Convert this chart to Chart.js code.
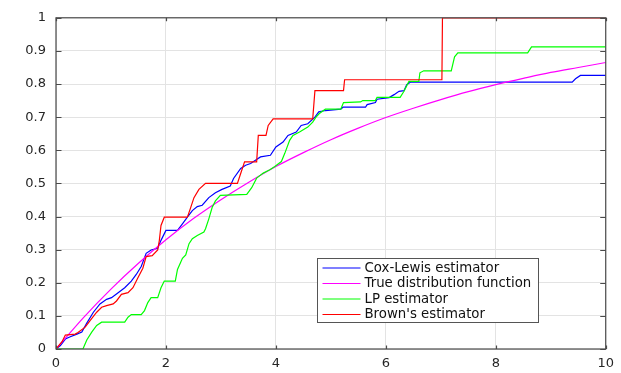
<!DOCTYPE html>
<html>
<head>
<meta charset="utf-8">
<script src="https://cdn.jsdelivr.net/npm/chart.js@4/dist/chart.umd.min.js"></script>
<style>
  html, body { margin: 0; padding: 0; background: #fff; }
  #wrap { width: 621px; height: 373px; }
</style>
</head>
<body>
<div id="wrap"><canvas id="myChart" width="621" height="373"></canvas></div>
<script>
// tick positions and their labels
var xTickValues = [0, 2, 4, 6, 8, 10];
var xTickLabels = ['0', '2', '4', '6', '8', '10'];
var yTickValues = [0, 0.1, 0.2, 0.3, 0.4, 0.5, 0.6, 0.7, 0.8, 0.9, 1];
var yTickLabels = ['0', '0.1', '0.2', '0.3', '0.4', '0.5', '0.6', '0.7', '0.8', '0.9', '1'];

var seriesNames = ['Cox-Lewis estimator', 'True distribution function', 'LP estimator', "Brown's estimator"];

// Cox-Lewis estimator
var coxX = [0, 0.08, 0.17, 0.26, 0.38, 0.47, 0.56, 0.68, 0.8, 0.92, 1.01, 1.13, 1.25, 1.37, 1.46, 1.55, 1.64, 1.73, 1.85, 1.91, 2.0, 2.21, 2.3, 2.39, 2.48, 2.57, 2.66, 2.78, 2.9, 3.02, 3.17, 3.23, 3.36, 3.45, 3.54, 3.72, 3.9, 4.0, 4.13, 4.22, 4.37, 4.46, 4.58, 4.71, 4.78, 4.9, 5.18, 5.22, 5.63, 5.66, 5.81, 5.84, 6.06, 6.15, 6.24, 6.33, 6.38, 6.45, 9.39, 9.45, 9.54, 10];
var coxY = [0, 0.01, 0.03, 0.037, 0.045, 0.051, 0.078, 0.111, 0.136, 0.15, 0.155, 0.17, 0.185, 0.205, 0.225, 0.249, 0.289, 0.299, 0.304, 0.328, 0.358, 0.358, 0.378, 0.398, 0.418, 0.43, 0.434, 0.457, 0.472, 0.482, 0.492, 0.515, 0.545, 0.555, 0.56, 0.58, 0.585, 0.61, 0.625, 0.645, 0.655, 0.675, 0.68, 0.7, 0.716, 0.72, 0.724, 0.73, 0.73, 0.738, 0.744, 0.754, 0.759, 0.768, 0.778, 0.78, 0.798, 0.806, 0.806, 0.816, 0.826, 0.826];

// true distribution function
var trueX = [0, 0.5, 1, 1.5, 2, 2.5, 3, 3.5, 4, 4.5, 5, 5.5, 6, 6.5, 7, 7.5, 8, 8.5, 9, 9.5, 10];
var trueY = [0, 0.095, 0.181, 0.259, 0.33, 0.394, 0.451, 0.503, 0.551, 0.593, 0.632, 0.667, 0.699, 0.727, 0.753, 0.777, 0.798, 0.817, 0.835, 0.85, 0.865];

// LP estimator
var lpX = [0, 0.49, 0.56, 0.65, 0.74, 0.83, 1.25, 1.31, 1.37, 1.55, 1.61, 1.67, 1.73, 1.85, 1.91, 1.97, 2.17, 2.21, 2.3, 2.36, 2.42, 2.48, 2.57, 2.69, 2.72, 2.78, 2.84, 2.9, 2.99, 3.47, 3.56, 3.65, 3.77, 3.89, 3.98, 4.1, 4.16, 4.25, 4.31, 4.43, 4.58, 4.67, 4.73, 4.79, 4.9, 5.18, 5.23, 5.54, 5.58, 5.81, 5.84, 6.26, 6.33, 6.42, 6.6, 6.62, 6.69, 7.19, 7.25, 7.31, 8.58, 8.65, 10];
var lpY = [0, 0, 0.027, 0.051, 0.071, 0.081, 0.081, 0.096, 0.104, 0.104, 0.116, 0.14, 0.155, 0.155, 0.185, 0.205, 0.205, 0.24, 0.274, 0.284, 0.318, 0.333, 0.343, 0.353, 0.363, 0.393, 0.427, 0.447, 0.464, 0.467, 0.487, 0.516, 0.531, 0.541, 0.551, 0.566, 0.59, 0.63, 0.645, 0.655, 0.67, 0.685, 0.7, 0.711, 0.724, 0.724, 0.744, 0.746, 0.75, 0.75, 0.76, 0.76, 0.778, 0.808, 0.808, 0.834, 0.84, 0.84, 0.882, 0.894, 0.894, 0.912, 0.912];

// Brown's estimator
var brownX = [0, 0.11, 0.17, 0.35, 0.4, 0.53, 0.62, 0.74, 0.83, 0.92, 1.04, 1.1, 1.19, 1.31, 1.4, 1.49, 1.58, 1.64, 1.75, 1.85, 1.88, 1.91, 1.97, 2.39, 2.45, 2.51, 2.6, 2.72, 3.3, 3.34, 3.43, 3.65, 3.68, 3.82, 3.86, 3.95, 4.67, 4.71, 5.23, 5.25, 7.02, 7.03, 10];
var brownY = [0, 0.022, 0.042, 0.045, 0.05, 0.066, 0.086, 0.111, 0.126, 0.131, 0.136, 0.145, 0.165, 0.17, 0.185, 0.215, 0.244, 0.279, 0.282, 0.299, 0.328, 0.373, 0.398, 0.398, 0.427, 0.457, 0.482, 0.5, 0.5, 0.52, 0.565, 0.565, 0.645, 0.645, 0.675, 0.695, 0.695, 0.78, 0.78, 0.813, 0.813, 1, 1];

function toPoints(xs, ys) {
	var pts = [];
	for (var i = 0; i < xs.length; i++) {
		pts.push({ x: xs[i], y: ys[i] });
	}
	return pts;
}

var textColor = '#262626';
var fontFamily = "'DejaVu Sans', 'Liberation Sans', Arial, sans-serif";

// axes box with inward ticks, plus the legend inside the plot
var boxPlugin = {
	id: 'boxAndLegend',
	afterDatasetsDraw: function(chart) {
		var ctx = chart.ctx;
		var a = chart.chartArea;
		var xs = chart.scales.x, ys = chart.scales.y;
		ctx.save();
		ctx.strokeStyle = '#4a4a4a';
		ctx.lineWidth = 1.2;
		ctx.strokeRect(a.left, a.top, a.right - a.left, a.bottom - a.top);
		ctx.beginPath();
		xTickValues.forEach(function(v) {
			var px = Math.round(xs.getPixelForValue(v)) + 0.5;
			ctx.moveTo(px, a.bottom); ctx.lineTo(px, a.bottom - 3.5);
			ctx.moveTo(px, a.top); ctx.lineTo(px, a.top + 3.5);
		});
		yTickValues.forEach(function(v) {
			var py = Math.round(ys.getPixelForValue(v)) + 0.5;
			ctx.moveTo(a.left, py); ctx.lineTo(a.left + 5.5, py);
			ctx.moveTo(a.right, py); ctx.lineTo(a.right - 5.5, py);
		});
		ctx.stroke();

		// legend
		var lx = Math.round(a.left + 261) + 0.5;
		var ly = Math.round(a.top + 240) + 0.5;
		var lw = 221, lh = 64;
		ctx.fillStyle = '#ffffff';
		ctx.fillRect(lx, ly, lw, lh);
		ctx.strokeStyle = '#555555';
		ctx.lineWidth = 1;
		ctx.strokeRect(lx, ly, lw, lh);
		ctx.font = '13.3px ' + fontFamily;
		ctx.textBaseline = 'middle';
		ctx.textAlign = 'left';
		var byName = {};
		chart.data.datasets.forEach(function(ds) { byName[ds.label] = ds.borderColor; });
		seriesNames.forEach(function(name, i) {
			var rowY = ly + 9.5 + i * 15.5;
			ctx.strokeStyle = byName[name];
			ctx.lineWidth = 1.2;
			ctx.beginPath();
			ctx.moveTo(lx + 5, rowY);
			ctx.lineTo(lx + 43, rowY);
			ctx.stroke();
			ctx.fillStyle = '#111111';
			ctx.fillText(name, lx + 47, rowY + 0.5);
		});
		ctx.restore();
	}
};

var ctx = document.getElementById('myChart');

var myChart = new Chart(ctx, {
	type: 'line',
	data: {
		datasets: [
			{
				label: seriesNames[0],
				data: toPoints(coxX, coxY),
				borderColor: '#0000ff',
				borderWidth: 1.2,
				pointRadius: 0,
				tension: 0,
				order: 4
			},
			{
				label: seriesNames[1],
				data: toPoints(trueX, trueY),
				borderColor: '#ff00ff',
				borderWidth: 1.2,
				pointRadius: 0,
				cubicInterpolationMode: 'monotone',
				order: 3
			},
			{
				label: seriesNames[2],
				data: toPoints(lpX, lpY),
				borderColor: '#00ff00',
				borderWidth: 1.2,
				pointRadius: 0,
				tension: 0,
				order: 2
			},
			{
				label: seriesNames[3],
				data: toPoints(brownX, brownY),
				borderColor: '#ff0000',
				borderWidth: 1.2,
				pointRadius: 0,
				tension: 0,
				order: 1
			}
		]
	},
	options: {
		responsive: false,
		animation: false,
		events: [],
		layout: { padding: { top: 12, right: 11, left: 0, bottom: 0 } },
		plugins: {
			legend: { display: false },
			tooltip: { enabled: false }
		},
		scales: {
			x: {
				type: 'linear',
				min: 0,
				max: 10,
				afterBuildTicks: function(scale) {
					scale.ticks = xTickValues.map(function(v) { return { value: v }; });
				},
				afterFit: function(scale) { scale.height = 24; },
				ticks: {
					padding: 7,
					color: textColor,
					font: { family: fontFamily, size: 13 },
					maxRotation: 0,
					callback: function(value, index) { return xTickLabels[index]; }
				},
				grid: { color: '#e3e3e3', drawTicks: false },
				border: { display: false }
			},
			y: {
				type: 'linear',
				min: 0,
				max: 1,
				afterBuildTicks: function(scale) {
					scale.ticks = yTickValues.map(function(v) { return { value: v }; });
				},
				afterFit: function(scale) { scale.width = 56; },
				ticks: {
					padding: 10,
					color: textColor,
					font: { family: fontFamily, size: 13 },
					callback: function(value, index) { return yTickLabels[index]; }
				},
				grid: { color: '#e3e3e3', drawTicks: false },
				border: { display: false }
			}
		}
	},
	plugins: [boxPlugin]
});
</script>
</body>
</html>
